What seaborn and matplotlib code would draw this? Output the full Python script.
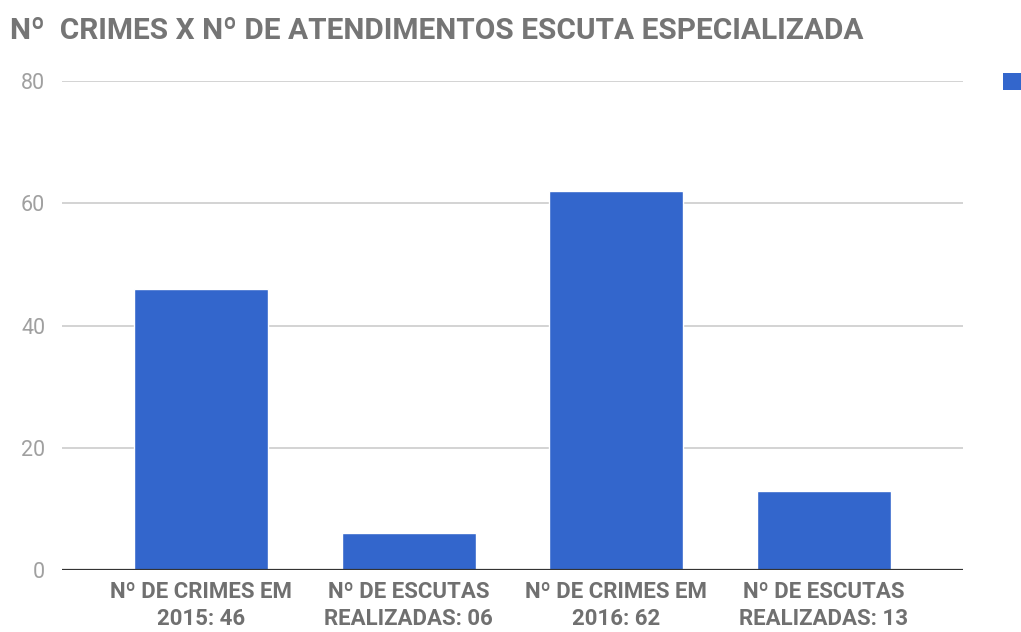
import matplotlib
matplotlib.use("Agg")
import matplotlib.pyplot as plt
from matplotlib.patches import Patch
import seaborn as sns
import pandas as pd

categories = [
    "Nº DE CRIMES EM\n2015: 46",
    "Nº DE ESCUTAS\nREALIZADAS: 06",
    "Nº DE CRIMES EM\n2016: 62",
    "Nº DE ESCUTAS\nREALIZADAS: 13",
]
values = [46, 6, 62, 13]
y_ticks = [0, 20, 40, 60, 80]
title = "Nº  CRIMES X Nº DE ATENDIMENTOS ESCUTA ESPECIALIZADA"
series_name = " "

bar_color = "#3366cc"

sns.set_theme(style="white")
plt.rcParams["font.family"] = ["Roboto", "DejaVu Sans"]

df = pd.DataFrame({"categoria": categories, "valor": values})

fig = plt.figure(figsize=(10.21, 6.32), dpi=100)
ax = fig.add_axes([62 / 1021, 1 - 570 / 632, (963 - 62) / 1021, (570 - 81) / 632])

sns.barplot(data=df, x="categoria", y="valor", color=bar_color, saturation=1,
            width=0.646, ax=ax, zorder=3)

ax.set_ylim(0, 80)
ax.set_xlim(-0.67, 3.67)
ax.set_yticks(y_ticks)
ax.set_yticklabels([str(v) for v in y_ticks], color="#a0a0a0", fontsize=15.5)
ax.grid(axis="y", color="#cccccc", linewidth=1.2, zorder=0)
ax.axhline(0, color="#333333", linewidth=1.6, zorder=4)
for s in ax.spines.values():
    s.set_visible(False)
ax.tick_params(axis="y", length=0, pad=12)
ax.tick_params(axis="x", length=0, pad=8)
for lbl in ax.get_xticklabels():
    lbl.set_fontsize(16)
    lbl.set_fontweight("bold")
    lbl.set_color("#707070")
    lbl.set_linespacing(1.3)
ax.set_xlabel("")
ax.set_ylabel("")

fig.text(10 / 1021, 1 - 31 / 632, title, fontsize=21.5, fontweight="bold",
         color="#757575", va="center", ha="left")

fig.legend(handles=[Patch(facecolor=bar_color, edgecolor="none")], labels=[series_name],
           loc="upper left", bbox_to_anchor=(1003 / 1021, 1 - 73 / 632), frameon=False,
           handlelength=1.3, handleheight=1.3, handletextpad=0.3, borderpad=0,
           borderaxespad=0)

fig.savefig("out.png", dpi=100)
